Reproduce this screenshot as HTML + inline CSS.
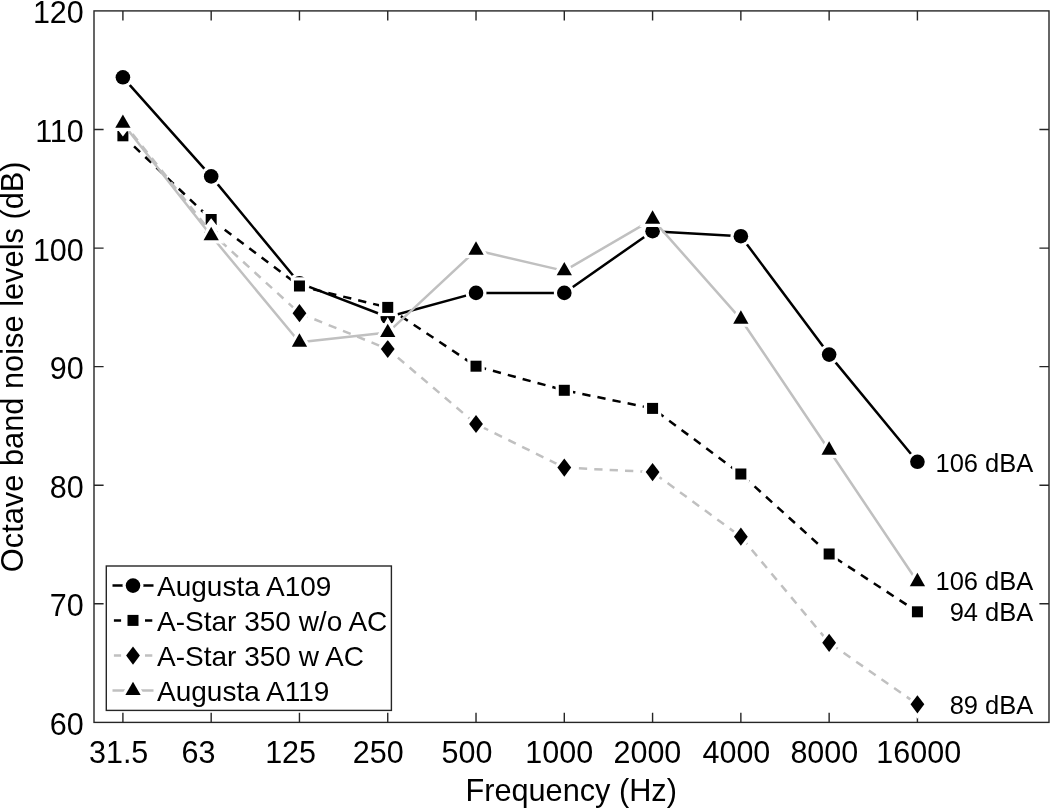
<!DOCTYPE html>
<html><head><meta charset="utf-8"><title>Octave band noise levels</title>
<style>
html,body{margin:0;padding:0;background:#fff;}
body{width:1050px;height:809px;overflow:hidden;}
svg{display:block;}
text{font-family:"Liberation Sans",Arial,Helvetica,sans-serif;fill:#000;}
</style></head><body>
<svg width="1050" height="809" viewBox="0 0 1050 809">
<rect x="0" y="0" width="1050" height="809" fill="#fff"/>

<g stroke="#262626" stroke-width="1.4" fill="none">
<rect x="94.0" y="10.9" width="955.0" height="711.5"/>
<path d="M122.90 722.4V712.8M122.90 10.9V20.5M211.18 722.4V712.8M211.18 10.9V20.5M299.46 722.4V712.8M299.46 10.9V20.5M387.74 722.4V712.8M387.74 10.9V20.5M476.02 722.4V712.8M476.02 10.9V20.5M564.30 722.4V712.8M564.30 10.9V20.5M652.58 722.4V712.8M652.58 10.9V20.5M740.86 722.4V712.8M740.86 10.9V20.5M829.14 722.4V712.8M829.14 10.9V20.5M917.42 722.4V712.8M917.42 10.9V20.5M94.0 603.82H103.6M1049.0 603.82H1039.4M94.0 485.24H103.6M1049.0 485.24H1039.4M94.0 366.66H103.6M1049.0 366.66H1039.4M94.0 248.08H103.6M1049.0 248.08H1039.4M94.0 129.50H103.6M1049.0 129.50H1039.4"/>
</g>
<polyline points="122.90,77.30 211.18,176.40 299.46,283.20 387.74,317.00 476.02,292.90 564.30,292.90 652.58,231.20 740.86,236.20 829.14,354.60 917.42,461.80" fill="none" stroke-width="2.5" stroke-linejoin="round" stroke="#000"/>
<g fill="#000" stroke="#fff" stroke-width="6.4" paint-order="stroke" stroke-linejoin="miter">
<circle cx="122.90" cy="77.30" r="7.3"/>
<circle cx="211.18" cy="176.40" r="7.3"/>
<circle cx="299.46" cy="283.20" r="7.3"/>
<circle cx="387.74" cy="317.00" r="7.3"/>
<circle cx="476.02" cy="292.90" r="7.3"/>
<circle cx="564.30" cy="292.90" r="7.3"/>
<circle cx="652.58" cy="231.20" r="7.3"/>
<circle cx="740.86" cy="236.20" r="7.3"/>
<circle cx="829.14" cy="354.60" r="7.3"/>
<circle cx="917.42" cy="461.80" r="7.3"/>
</g>
<polyline points="122.90,135.80 211.18,219.50 299.46,286.00 387.74,307.40 476.02,366.20 564.30,390.30 652.58,408.40 740.86,474.00 829.14,554.00 917.42,611.80" fill="none" stroke-width="2.5" stroke-linejoin="round" stroke="#000" stroke-dasharray="8.3 7.1"/>
<g fill="#000" stroke="#fff" stroke-width="6.4" paint-order="stroke" stroke-linejoin="miter">
<rect x="117.40" y="130.30" width="11.0" height="11.0"/>
<rect x="205.68" y="214.00" width="11.0" height="11.0"/>
<rect x="293.96" y="280.50" width="11.0" height="11.0"/>
<rect x="382.24" y="301.90" width="11.0" height="11.0"/>
<rect x="470.52" y="360.70" width="11.0" height="11.0"/>
<rect x="558.80" y="384.80" width="11.0" height="11.0"/>
<rect x="647.08" y="402.90" width="11.0" height="11.0"/>
<rect x="735.36" y="468.50" width="11.0" height="11.0"/>
<rect x="823.64" y="548.50" width="11.0" height="11.0"/>
<rect x="911.92" y="606.30" width="11.0" height="11.0"/>
</g>
<polyline points="122.90,122.00 211.18,232.60 299.46,313.20 387.74,349.00 476.02,424.00 564.30,467.60 652.58,472.10 740.86,536.70 829.14,642.80 917.42,704.30" fill="none" stroke-width="2.5" stroke-linejoin="round" stroke="#c0c0c0" stroke-dasharray="8.3 7.1"/>
<g fill="#000" stroke="#fff" stroke-width="6.4" paint-order="stroke" stroke-linejoin="miter">
<path d="M122.90 112.90L129.80 122.00L122.90 131.10L116.00 122.00Z"/>
<path d="M211.18 223.50L218.08 232.60L211.18 241.70L204.28 232.60Z"/>
<path d="M299.46 304.10L306.36 313.20L299.46 322.30L292.56 313.20Z"/>
<path d="M387.74 339.90L394.64 349.00L387.74 358.10L380.84 349.00Z"/>
<path d="M476.02 414.90L482.92 424.00L476.02 433.10L469.12 424.00Z"/>
<path d="M564.30 458.50L571.20 467.60L564.30 476.70L557.40 467.60Z"/>
<path d="M652.58 463.00L659.48 472.10L652.58 481.20L645.68 472.10Z"/>
<path d="M740.86 527.60L747.76 536.70L740.86 545.80L733.96 536.70Z"/>
<path d="M829.14 633.70L836.04 642.80L829.14 651.90L822.24 642.80Z"/>
<path d="M917.42 695.20L924.32 704.30L917.42 713.40L910.52 704.30Z"/>
</g>
<polyline points="122.90,123.40 211.18,235.80 299.46,342.30 387.74,332.60 476.02,250.30 564.30,270.90 652.58,219.30 740.86,319.20 829.14,450.30 917.42,581.80" fill="none" stroke-width="2.5" stroke-linejoin="round" stroke="#c0c0c0"/>
<g fill="#000" stroke="#fff" stroke-width="6.4" paint-order="stroke" stroke-linejoin="miter">
<path d="M122.90 114.47L130.55 127.87L115.25 127.87Z"/>
<path d="M211.18 226.87L218.83 240.27L203.53 240.27Z"/>
<path d="M299.46 333.37L307.11 346.77L291.81 346.77Z"/>
<path d="M387.74 323.67L395.39 337.07L380.09 337.07Z"/>
<path d="M476.02 241.37L483.67 254.77L468.37 254.77Z"/>
<path d="M564.30 261.97L571.95 275.37L556.65 275.37Z"/>
<path d="M652.58 210.37L660.23 223.77L644.93 223.77Z"/>
<path d="M740.86 310.27L748.51 323.67L733.21 323.67Z"/>
<path d="M829.14 441.37L836.79 454.77L821.49 454.77Z"/>
<path d="M917.42 572.87L925.07 586.27L909.77 586.27Z"/>
</g>
<rect x="106.3" y="566.0" width="285.09999999999997" height="144.39999999999998" fill="#fff" stroke="#262626" stroke-width="1.4"/>
<line x1="112.5" y1="585.6" x2="153.5" y2="585.6" stroke="#000" stroke-width="2.5"/>
<g fill="#000" stroke="#fff" stroke-width="6.4" paint-order="stroke"><circle cx="133.00" cy="585.60" r="7.3"/></g>
<text x="157" y="596.4" font-size="28">Augusta A109</text>
<path d="M113.9 620.4H121.1M145 620.4H152.3" stroke="#000" stroke-width="2.5"/>
<g fill="#000" stroke="#fff" stroke-width="6.4" paint-order="stroke"><rect x="127.50" y="614.90" width="11.0" height="11.0"/></g>
<text x="157" y="631.2" font-size="28">A-Star 350 w/o AC</text>
<path d="M113.9 655.6H121.1M145 655.6H152.3" stroke="#c0c0c0" stroke-width="2.5"/>
<g fill="#000" stroke="#fff" stroke-width="6.4" paint-order="stroke"><path d="M133.00 646.50L139.90 655.60L133.00 664.70L126.10 655.60Z"/></g>
<text x="157" y="666.4" font-size="28">A-Star 350 w AC</text>
<line x1="112.5" y1="690.6" x2="153.5" y2="690.6" stroke="#c0c0c0" stroke-width="2.5"/>
<g fill="#000" stroke="#fff" stroke-width="6.4" paint-order="stroke"><path d="M133.00 681.67L140.65 695.07L125.35 695.07Z"/></g>
<text x="157" y="701.4" font-size="28">Augusta A119</text>
<g font-size="30.5">
<text x="83.8" y="734.8" text-anchor="end">60</text>
<text x="83.8" y="616.2" text-anchor="end">70</text>
<text x="83.8" y="497.6" text-anchor="end">80</text>
<text x="83.8" y="379.1" text-anchor="end">90</text>
<text x="83.8" y="260.5" text-anchor="end">100</text>
<text x="83.8" y="141.9" text-anchor="end">110</text>
<text x="83.8" y="23.3" text-anchor="end">120</text>
<text x="118.65" y="762.5" text-anchor="middle">31.5</text>
<text x="198.45" y="762.5" text-anchor="middle">63</text>
<text x="290.60" y="762.5" text-anchor="middle">125</text>
<text x="378.15" y="762.5" text-anchor="middle">250</text>
<text x="466.95" y="762.5" text-anchor="middle">500</text>
<text x="559.30" y="762.5" text-anchor="middle">1000</text>
<text x="647.40" y="762.5" text-anchor="middle">2000</text>
<text x="736.40" y="762.5" text-anchor="middle">4000</text>
<text x="824.35" y="762.5" text-anchor="middle">8000</text>
<text x="918.75" y="762.5" text-anchor="middle">16000</text>
</g>
<text x="571.2" y="800.8" font-size="30.7" text-anchor="middle">Frequency (Hz)</text>
<text transform="translate(22.5 366.8) rotate(-90)" font-size="30.8" text-anchor="middle">Octave band noise levels (dB)</text>
<text x="1033.3" y="471.6" font-size="25.5" text-anchor="end">106 dBA</text>
<text x="1033.3" y="589.7" font-size="25.5" text-anchor="end">106 dBA</text>
<text x="1033.3" y="621.1" font-size="25.5" text-anchor="end">94 dBA</text>
<text x="1033.3" y="713.7" font-size="25.5" text-anchor="end">89 dBA</text>
</svg></body></html>
